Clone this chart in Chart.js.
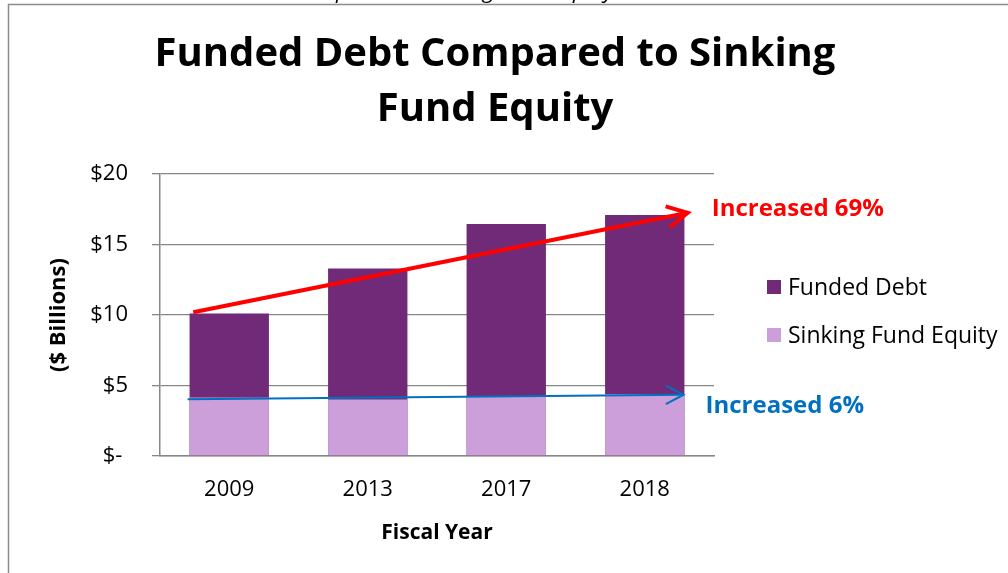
<!DOCTYPE html>
<html>
<head>
<meta charset="utf-8">
<style>
  html,body{margin:0;padding:0;background:#fff;}
  #wrap{width:1008px;height:573px;position:relative;}
</style>
</head>
<body>
<div id="wrap"><canvas id="debtChart"></canvas></div>
<script src="https://cdn.jsdelivr.net/npm/chart.js@4"></script>
<script>
/* ---------- Data ($ billions) ---------- */
const YEARS        = ['2009', '2013', '2017', '2018'];
const FUNDED_DEBT  = [10.1, 13.3, 16.45, 17.1];
const SINKING_FUND = [4.15, 4.0, 4.2, 4.4];
const Y_TICKS      = [0, 5, 10, 15, 20];
const TITLE_LINES  = ['Funded Debt Compared to Sinking', 'Fund Equity'];

// trend arrows in data units: [category index, value]
const DEBT_TREND   = { from: [-0.26, 10.2], to: [3.31, 17.25], label: 'Increased 69%' };
const EQUITY_TREND = { from: [-0.30, 4.02], to: [3.28, 4.35],  label: 'Increased 6%' };

/* ---------- Style ---------- */
const FONT   = "'Open Sans', sans-serif";
const PURPLE = '#712A77';
const LILAC  = '#CC9FDB';
const GRID   = '#878787';
const RED    = '#FF0000';
const BLUE   = '#0070C0';

Chart.defaults.color = '#000';
Chart.defaults.font.family = FONT;

/* ---------- Helpers ---------- */
const toPx = (chart, [i, v]) => {
  const {x, y} = chart.scales;
  const step = x.getPixelForValue(1) - x.getPixelForValue(0);
  return [x.getPixelForValue(0) + i * step, y.getPixelForValue(v)];
};

function drawArrow(ctx, a, b, color, width, head){
  const ang = Math.atan2(b[1] - a[1], b[0] - a[0]);
  const spread = 0.48;
  ctx.save();
  ctx.strokeStyle = color;
  ctx.lineWidth = width;
  ctx.lineJoin = 'miter';
  ctx.beginPath(); ctx.moveTo(a[0], a[1]); ctx.lineTo(b[0], b[1]); ctx.stroke();
  ctx.beginPath();
  ctx.moveTo(b[0] - head * Math.cos(ang - spread), b[1] - head * Math.sin(ang - spread));
  ctx.lineTo(b[0], b[1]);
  ctx.lineTo(b[0] - head * Math.cos(ang + spread), b[1] - head * Math.sin(ang + spread));
  ctx.stroke();
  ctx.restore();
}

/* frame, caption strip above it, and the chart title */
const framePlugin = {
  id: 'frame',
  beforeDraw(chart){
    const {ctx, width, height} = chart;
    ctx.save();
    ctx.fillStyle = '#fff';
    ctx.fillRect(0, 0, width, height);
    ctx.strokeStyle = '#8c8c8c';
    ctx.lineWidth = 1.5;
    ctx.beginPath();
    ctx.moveTo(8.5, height); ctx.lineTo(8.5, 4.5); ctx.lineTo(width, 4.5);
    ctx.stroke();

    // caption of the figure sits above the frame, mostly out of view
    ctx.font = `italic 22px ${FONT}`;
    ctx.fillStyle = '#000';
    ctx.textBaseline = 'alphabetic';
    const cap = 'Funded Debt Compared to Sinking Fund Equity';
    const x0 = 336 - ctx.measureText('Funded Debt Com').width;
    ctx.fillText(cap, x0, -2);

    // title
    ctx.font = `bold 40px ${FONT}`;
    ctx.textAlign = 'center';
    TITLE_LINES.forEach((t, k) => ctx.fillText(t, 495, 66 + k * 55));
    ctx.restore();
  }
};

/* trend arrows, their notes and the legend */
const notesPlugin = {
  id: 'notes',
  afterDatasetsDraw(chart){
    const {ctx, chartArea} = chart;

    const d0 = toPx(chart, DEBT_TREND.from), d1 = toPx(chart, DEBT_TREND.to);
    drawArrow(ctx, d0, d1, RED, 4, 23);
    const e0 = toPx(chart, EQUITY_TREND.from), e1 = toPx(chart, EQUITY_TREND.to);
    drawArrow(ctx, e0, e1, BLUE, 2, 20);

    ctx.save();
    ctx.font = `bold 24px ${FONT}`;
    ctx.textBaseline = 'middle';
    ctx.textAlign = 'left';
    ctx.fillStyle = RED;
    ctx.fillText(DEBT_TREND.label, d1[0] + 24, d1[1] - 4);
    ctx.fillStyle = BLUE;
    ctx.fillText(EQUITY_TREND.label, e1[0] + 22, e1[1] + 11);

    // legend
    ctx.font = `23px ${FONT}`;
    const lx = chartArea.right + 53;
    chart.data.datasets.forEach((ds, k) => {
      const cy = 287 + k * 48;
      ctx.fillStyle = ds.backgroundColor;
      ctx.fillRect(lx, cy - 7, 14, 14);
      ctx.fillStyle = '#000';
      ctx.fillText(ds.label, lx + 21, cy + 1);
    });
    ctx.restore();
  }
};

/* ---------- Chart ---------- */
new Chart(document.getElementById('debtChart'), {
  type: 'bar',
  data: {
    labels: YEARS,
    datasets: [
      { label: 'Funded Debt',         data: FUNDED_DEBT,  backgroundColor: PURPLE, order: 1 },
      { label: 'Sinking Fund Equity', data: SINKING_FUND, backgroundColor: LILAC,  order: 0 }
    ]
  },
  options: {
    responsive: true,
    maintainAspectRatio: false,
    animation: false,
    datasets: { bar: { grouped: false, categoryPercentage: 1, barPercentage: 0.573 } },
    layout: { padding: { left: 0, right: 294, top: 174, bottom: 17 } },
    plugins: {
      legend: { display: false },
      tooltip: { enabled: false },
      title: { display: false }
    },
    scales: {
      x: {
        grid: { display: false },
        border: { display: true, color: GRID, width: 1.5 },
        ticks: { font: { size: 22 }, padding: 13 },
        title: { display: true, text: 'Fiscal Year', font: { size: 21, weight: 'bold' }, padding: { top: 0, bottom: 10 } },
        afterFit: (s) => { s.height = 100; }
      },
      y: {
        min: 0, max: 20,
        afterBuildTicks: (s) => { s.ticks = Y_TICKS.map(v => ({ value: v })); },
        grid: { color: GRID, lineWidth: 1.3, tickLength: 8 },
        border: { display: true, color: GRID, width: 1.5 },
        ticks: {
          font: { size: 22 }, padding: 24,
          callback: (v) => v === 0 ? '$- ' : '$' + v
        },
        title: { display: true, text: '($ Billions)', font: { size: 22, weight: 'bold' }, padding: { top: 46, bottom: 0 } },
        afterFit: (s) => { s.width = 160; }
      }
    }
  },
  plugins: [framePlugin, notesPlugin]
});
</script>
</body>
</html>
